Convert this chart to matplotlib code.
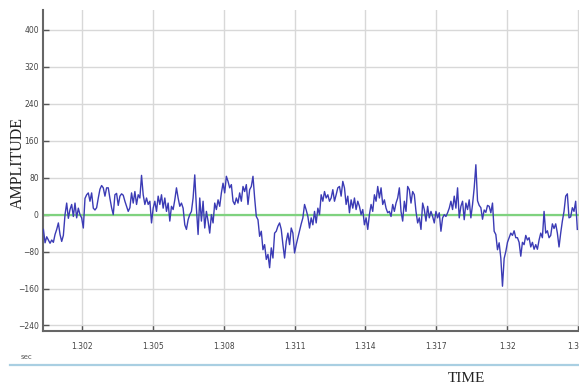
import numpy as np
import matplotlib
matplotlib.use("Agg")
import matplotlib.pyplot as plt
from matplotlib.lines import Line2D

# sampled signal (amplitude), uniform sampling from t0 with step dt
t0 = 1.300366
dt = 7.042e-5
amp = [
    # 1.3004 - 1.3040
    -32, -61, -48, -55, -62, -55, -60, -43, -32, -18,
    -43, -58, -45, 0, 25, -8, 11, 22, -4, 25,
    -7, 14, 0, -7, -29, 35, 43, 47, 29, 47,
    14, 10, 15, 36, 55, 63, 58, 40, 58, 58,
    35, 15, 0, 43, 46, 20, 40, 45, 42, 29,
    18, 7,
    # 1.3040 - 1.3078
    15, 47, 25, 50, 22, 43, 36, 85, 43, 22,
    36, 22, 29, -18, 14, 29, 7, 40, 22, 43,
    14, 36, 7, 25, -14, 18, 11, 32, 58, 36,
    18, 25, 14, -22, -32, -11, 0, 7, 36, 86,
    14, -43, 36, -14, 29, -29, 7, -14, -40, 0,
    -18, 25, 11, 32,
    # 1.3078 - 1.3116
    18, 47, 68, 47, 83, 72, 58, 65, 29, 22,
    36, 25, 47, 29, 61, 50, 65, 22, 54, 61,
    83, 36, -4, -11, -47, -36, -76, -65, -97, -86,
    -115, -72, -94, -40, -36, -25, -18, -32, -65, -94,
    -58, -40, -65, -29, -40, -83, -65, -50, -36, -20,
    -7, 22, 10, -4,
    # 1.3116 - 1.3154
    -29, -7, -22, 7, -18, 14, 0, 43, 29, 50,
    36, 43, 29, 36, 54, 29, 43, 58, 61, 40,
    72, 58, 22, 40, 4, 32, 14, 36, 11, 29,
    18, 0, 11, -22, -7, -32, 0, 22, 7, 43,
    29, 61, 36, 58, 22, 32, 14, 4, 7, -4,
    22, 7, 25, 36,
    # 1.3154 - 1.3192
    58, 7, -14, 29, 7, 61, 54, 25, 50, 43,
    7, -18, -7, -32, 25, 11, -14, 18, -7, 7,
    -4, -18, 7, -7, 4, -36, -7, 0, -4, 4,
    14, 29, 11, 40, 14, 58, -7, 18, 29, -11,
    25, 11, 32, -7, 22, 58, 108, 30, 20, 15,
    -10, 10, 5, 20,
    # 1.3192 - 1.3230
    18, 4, 25, -36, -43, -76, -61, -94, -155, -95,
    -80, -60, -50, -40, -45, -35, -50, -50, -60, -90,
    -60, -65, -45, -55, -50, -70, -60, -75, -65, -75,
    -55, -40, -50, 7, -40, -35, -50, -45, -20, -30,
    -20, -40, -70, -40, -14, 7, 40, 45, -7, -5,
    15, 7, 29, -32,
]
t = t0 + np.arange(len(amp)) * dt

xticks = [1.302, 1.305, 1.308, 1.311, 1.314, 1.317, 1.320, 1.323]
xtick_labels = ["1.302", "1.305", "1.308", "1.311", "1.314", "1.317", "1.32", "1.323"]
yticks = [-240, -160, -80, 0, 80, 160, 240, 320, 400]

small_font = ["Liberation Sans Narrow", "DejaVu Sans"]
serif_font = ["Liberation Serif", "DejaVu Serif"]

fig = plt.figure(figsize=(5.79, 3.92), dpi=100)
ax = fig.add_axes([0.0743, 0.1556, 0.9444, 0.82])

ax.axhline(0, color="#7fd27f", lw=1.6, zorder=2)
ax.plot(t, amp, color="#3b3bb5", lw=1.0, zorder=3)

ax.set_xlim(1.30035, 1.3235)
ax.set_ylim(-252, 444)
ax.set_xticks(xticks)
ax.set_xticklabels(xtick_labels)
ax.set_yticks(yticks)
ax.grid(True, color="#d8d8d8", lw=1.0, zorder=0)

ax.tick_params(direction="in", length=4, width=1, color="#555555",
               labelsize=5.5, labelcolor="#444444")
ax.tick_params(axis="x", pad=8)
ax.tick_params(axis="y", pad=3)
for lab in ax.get_xticklabels() + ax.get_yticklabels():
    lab.set_family(small_font)

for side in ["top", "right"]:
    ax.spines[side].set_visible(False)
for side in ["left", "bottom"]:
    ax.spines[side].set_color("#666666")
    ax.spines[side].set_linewidth(1.5)

fig.text(0.031, 0.584, "AMPLITUDE", rotation=90, ha="center", va="center",
         fontsize=11.5, family=serif_font, color="#222222")
fig.text(0.805, 0.035, "TIME", ha="center", va="center",
         fontsize=11, family=serif_font, color="#222222")
fig.text(0.046, 0.089, "sec", ha="center", va="center",
         fontsize=5, family=small_font, color="#555555")
fig.add_artist(Line2D([0.017, 1.0], [0.069, 0.069], transform=fig.transFigure,
                      color="#a9cfe2", lw=1.6))

fig.savefig("out.png", dpi=100)
